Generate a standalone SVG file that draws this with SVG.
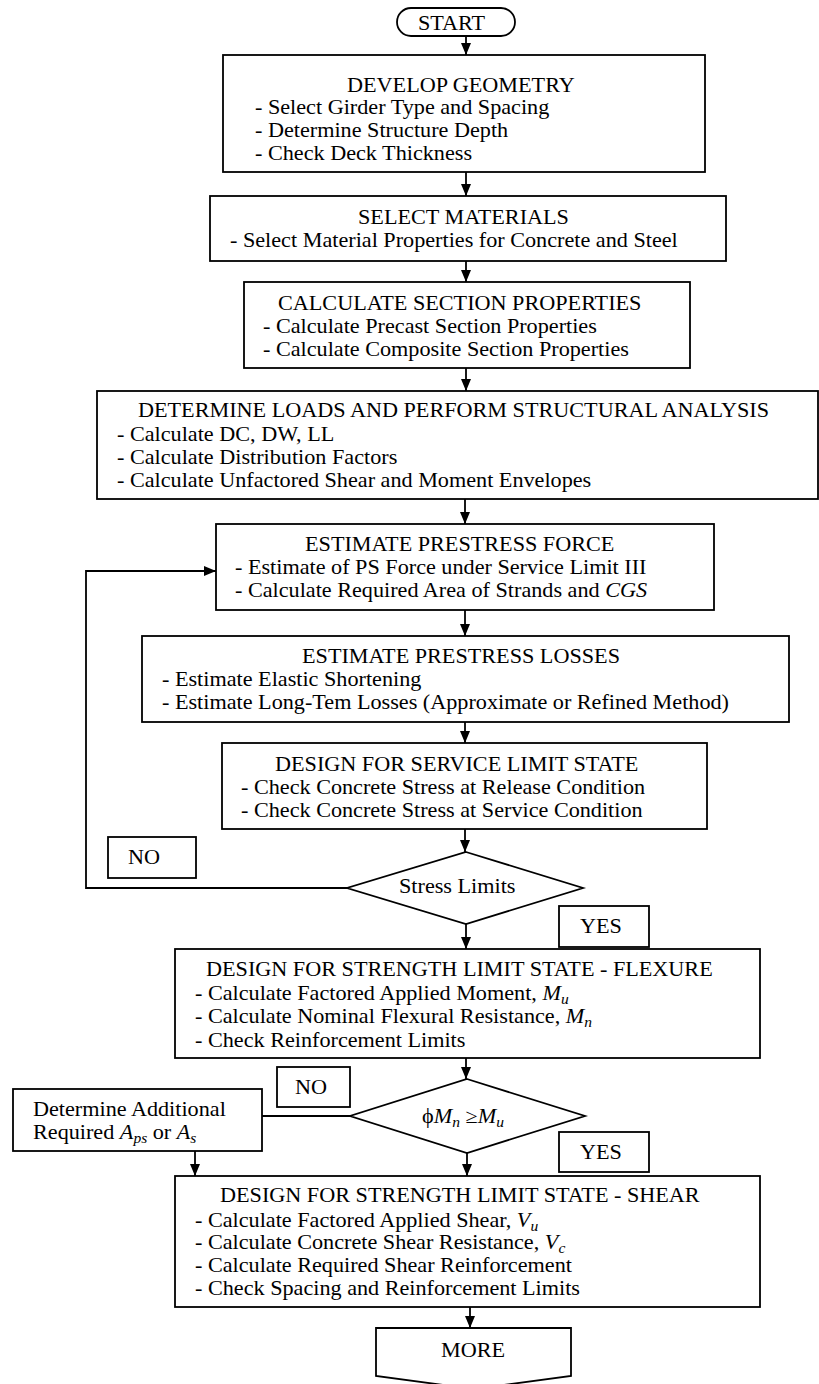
<svg xmlns="http://www.w3.org/2000/svg" width="819" height="1384" viewBox="0 0 819 1384">
<style>
.bg{fill:#fff}
.n{fill:#fff;stroke:#000;stroke-width:1.8}
.c{fill:none;stroke:#000;stroke-width:1.8}
.t{font-size:20px;fill:#000}
.i{font-style:italic}
.s{font-size:14px}
</style>
<defs>
<marker id="ah" markerUnits="userSpaceOnUse" markerWidth="12" markerHeight="10" refX="12" refY="5" orient="auto">
<path d="M0,0 L12,5 L0,10 Z" fill="#000"/>
</marker>
</defs>
<rect class="bg" x="0" y="0" width="819" height="1384"/>

<g id="connectors">
<line class="c" x1="466" y1="36" x2="466" y2="55" marker-end="url(#ah)"/>
<line class="c" x1="466" y1="172" x2="466" y2="196" marker-end="url(#ah)"/>
<line class="c" x1="466" y1="261" x2="466" y2="282" marker-end="url(#ah)"/>
<line class="c" x1="466" y1="368" x2="466" y2="391" marker-end="url(#ah)"/>
<line class="c" x1="465" y1="499" x2="465" y2="524" marker-end="url(#ah)"/>
<line class="c" x1="465" y1="610" x2="465" y2="636" marker-end="url(#ah)"/>
<line class="c" x1="465" y1="722" x2="465" y2="743" marker-end="url(#ah)"/>
<line class="c" x1="465" y1="829" x2="465" y2="852" marker-end="url(#ah)"/>
<line class="c" x1="466" y1="924" x2="466" y2="949" marker-end="url(#ah)"/>
<line class="c" x1="466" y1="1058" x2="466" y2="1079" marker-end="url(#ah)"/>
<line class="c" x1="467" y1="1153" x2="467" y2="1176" marker-end="url(#ah)"/>
<polyline class="c" points="347,888 86,888 86,571 216,571" marker-end="url(#ah)"/>
<line class="c" x1="350" y1="1116" x2="262" y2="1116"/>
<line class="c" x1="195" y1="1151" x2="195" y2="1176" marker-end="url(#ah)"/>
<line class="c" x1="470" y1="1307" x2="470" y2="1328" marker-end="url(#ah)"/>
</g>

<g id="start">
<rect class="n" x="397" y="8" width="118" height="28" rx="14" ry="14"/>
<text class="t" font-family="Liberation Serif" transform="matrix(1.11 0 0 1 418 30)">START</text>
</g>

<g id="develop-geometry">
<rect class="n" x="223" y="55" width="482" height="117"/>
<text class="t" font-family="Liberation Serif" transform="matrix(1.11 0 0 1 347 92)">DEVELOP GEOMETRY</text>
<text class="t" font-family="Liberation Serif" transform="matrix(1.11 0 0 1 255 114)">- Select Girder Type and Spacing</text>
<text class="t" font-family="Liberation Serif" transform="matrix(1.11 0 0 1 255 137)">- Determine Structure Depth</text>
<text class="t" font-family="Liberation Serif" transform="matrix(1.11 0 0 1 255 160)">- Check Deck Thickness</text>
</g>

<g id="select-materials">
<rect class="n" x="210" y="196" width="516" height="65"/>
<text class="t" font-family="Liberation Serif" transform="matrix(1.11 0 0 1 358 224)">SELECT MATERIALS</text>
<text class="t" font-family="Liberation Serif" transform="matrix(1.11 0 0 1 230 247)">- Select Material Properties for Concrete and Steel</text>
</g>

<g id="section-properties">
<rect class="n" x="244" y="282" width="446" height="86"/>
<text class="t" font-family="Liberation Serif" transform="matrix(1.11 0 0 1 278 310)">CALCULATE SECTION PROPERTIES</text>
<text class="t" font-family="Liberation Serif" transform="matrix(1.11 0 0 1 263 333)">- Calculate Precast Section Properties</text>
<text class="t" font-family="Liberation Serif" transform="matrix(1.11 0 0 1 263 356)">- Calculate Composite Section Properties</text>
</g>

<g id="loads-analysis">
<rect class="n" x="97" y="391" width="721" height="108"/>
<text class="t" font-family="Liberation Serif" transform="matrix(1.11 0 0 1 138 417)">DETERMINE LOADS AND PERFORM STRUCTURAL ANALYSIS</text>
<text class="t" font-family="Liberation Serif" transform="matrix(1.11 0 0 1 117 441)">- Calculate DC, DW, LL</text>
<text class="t" font-family="Liberation Serif" transform="matrix(1.11 0 0 1 117 464)">- Calculate Distribution Factors</text>
<text class="t" font-family="Liberation Serif" transform="matrix(1.11 0 0 1 117 487)">- Calculate Unfactored Shear and Moment Envelopes</text>
</g>

<g id="prestress-force">
<rect class="n" x="216" y="524" width="498" height="86"/>
<text class="t" font-family="Liberation Serif" transform="matrix(1.11 0 0 1 305 551)">ESTIMATE PRESTRESS FORCE</text>
<text class="t" font-family="Liberation Serif" transform="matrix(1.11 0 0 1 235 574)">- Estimate of PS Force under Service Limit III</text>
<text class="t" font-family="Liberation Serif" transform="matrix(1.11 0 0 1 235 597)">- Calculate Required Area of Strands and <tspan class="i">CGS</tspan></text>
</g>

<g id="prestress-losses">
<rect class="n" x="142" y="636" width="647" height="86"/>
<text class="t" font-family="Liberation Serif" transform="matrix(1.11 0 0 1 302 663)">ESTIMATE PRESTRESS LOSSES</text>
<text class="t" font-family="Liberation Serif" transform="matrix(1.11 0 0 1 162 686)">- Estimate Elastic Shortening</text>
<text class="t" font-family="Liberation Serif" transform="matrix(1.11 0 0 1 162 709)">- Estimate Long-Tem Losses (Approximate or Refined Method)</text>
</g>

<g id="service-limit">
<rect class="n" x="222" y="743" width="485" height="86"/>
<text class="t" font-family="Liberation Serif" transform="matrix(1.11 0 0 1 275 771)">DESIGN FOR SERVICE LIMIT STATE</text>
<text class="t" font-family="Liberation Serif" transform="matrix(1.11 0 0 1 241 794)">- Check Concrete Stress at Release Condition</text>
<text class="t" font-family="Liberation Serif" transform="matrix(1.11 0 0 1 241 817)">- Check Concrete Stress at Service Condition</text>
</g>

<g id="stress-limits">
<polygon class="n" points="466,852 583,888 466,924 347,888"/>
<text class="t" font-family="Liberation Serif" transform="matrix(1.11 0 0 1 399 893)">Stress Limits</text>
</g>

<g id="no-1">
<rect class="n" x="108" y="837" width="88" height="41"/>
<text class="t" font-family="Liberation Serif" transform="matrix(1.11 0 0 1 128 864)">NO</text>
</g>

<g id="yes-1">
<rect class="n" x="559" y="906" width="90" height="41"/>
<text class="t" font-family="Liberation Serif" transform="matrix(1.11 0 0 1 580 933)">YES</text>
</g>

<g id="strength-flexure">
<rect class="n" x="175" y="949" width="585" height="109"/>
<text class="t" font-family="Liberation Serif" transform="matrix(1.11 0 0 1 206 976)">DESIGN FOR STRENGTH LIMIT STATE - FLEXURE</text>
<text class="t" font-family="Liberation Serif" transform="matrix(1.11 0 0 1 195 1000)">- Calculate Factored Applied Moment, <tspan class="i">M</tspan><tspan class="i s" dy="4">u</tspan></text>
<text class="t" font-family="Liberation Serif" transform="matrix(1.11 0 0 1 195 1023)">- Calculate Nominal Flexural Resistance, <tspan class="i">M</tspan><tspan class="i s" dy="4">n</tspan></text>
<text class="t" font-family="Liberation Serif" transform="matrix(1.11 0 0 1 195 1047)">- Check Reinforcement Limits</text>
</g>

<g id="no-2">
<rect class="n" x="277" y="1067" width="73" height="40"/>
<text class="t" font-family="Liberation Serif" transform="matrix(1.11 0 0 1 295 1094)">NO</text>
</g>

<g id="moment-check">
<polygon class="n" points="467,1079 585,1116 467,1153 350,1116"/>
<text class="t" font-family="Liberation Serif" transform="matrix(1.11 0 0 1 422 1123)">ϕ<tspan class="i">M</tspan><tspan class="i s" dy="4">n</tspan><tspan dy="-4"> ≥</tspan><tspan class="i">M</tspan><tspan class="i s" dy="4">u</tspan></text>
</g>

<g id="additional-steel">
<rect class="n" x="13" y="1089" width="249" height="62"/>
<text class="t" font-family="Liberation Serif" transform="matrix(1.11 0 0 1 33 1116)">Determine Additional</text>
<text class="t" font-family="Liberation Serif" transform="matrix(1.11 0 0 1 33 1139)">Required <tspan class="i">A</tspan><tspan class="i s" dy="4">ps</tspan><tspan dy="-4"> or </tspan><tspan class="i">A</tspan><tspan class="i s" dy="4">s</tspan></text>
</g>

<g id="yes-2">
<rect class="n" x="559" y="1132" width="90" height="40"/>
<text class="t" font-family="Liberation Serif" transform="matrix(1.11 0 0 1 580 1159)">YES</text>
</g>

<g id="strength-shear">
<rect class="n" x="175" y="1176" width="585" height="131"/>
<text class="t" font-family="Liberation Serif" transform="matrix(1.11 0 0 1 220 1202)">DESIGN FOR STRENGTH LIMIT STATE - SHEAR</text>
<text class="t" font-family="Liberation Serif" transform="matrix(1.11 0 0 1 195 1227)">- Calculate Factored Applied Shear, <tspan class="i">V</tspan><tspan class="i s" dy="4">u</tspan></text>
<text class="t" font-family="Liberation Serif" transform="matrix(1.11 0 0 1 195 1249)">- Calculate Concrete Shear Resistance, <tspan class="i">V</tspan><tspan class="i s" dy="4">c</tspan></text>
<text class="t" font-family="Liberation Serif" transform="matrix(1.11 0 0 1 195 1272)">- Calculate Required Shear Reinforcement</text>
<text class="t" font-family="Liberation Serif" transform="matrix(1.11 0 0 1 195 1295)">- Check Spacing and Reinforcement Limits</text>
</g>

<g id="more">
<polygon class="n" points="376,1328 571,1328 571,1376 473.5,1389 376,1376"/>
<text class="t" font-family="Liberation Serif" transform="matrix(1.11 0 0 1 441 1357)">MORE</text>
</g>
</svg>
